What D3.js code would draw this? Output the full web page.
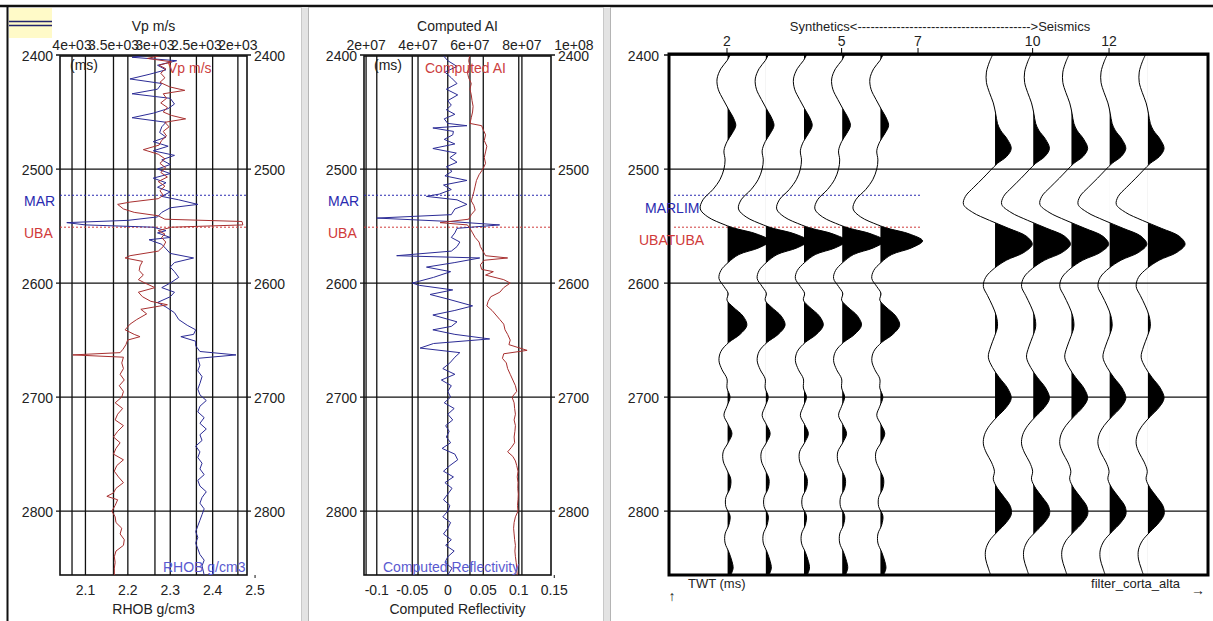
<!DOCTYPE html>
<html>
<head>
<meta charset="utf-8">
<script src="https://cdn.jsdelivr.net/npm/d3@7"></script>
<style>
  body { margin: 0; background: #fff; }
  svg { display: block; font-family: "Liberation Sans", Arial, sans-serif; }
</style>
</head>
<body>
<svg id="fig" width="1213" height="621"></svg>
<script>
// ---------------- data ----------------
// two-way time ticks (ms)
const twtTicks = [2400, 2500, 2600, 2700, 2800];

// formation tops picked on the logs
const horizonNames = ["MAR", "UBA"];
const horizonLongNames = ["MARLIM", "UBATUBA"];
const horizonTimes = [2523, 2551];

// P-velocity log, [twt ms, Vp m/s]
const vpLog = [
  [2400,2900],[2403,3090],[2406,2800],[2409,2950],[2412,2870],[2416,2930],[2420,2880],[2424,2940],
  [2428,2820],[2431,2640],[2434,2900],[2438,2860],[2442,2930],[2446,2850],[2450,2900],[2453,2800],
  [2456,2630],[2459,2880],[2463,2830],[2467,2900],[2471,2860],[2475,2920],[2479,2950],[2483,3140],
  [2487,2960],[2491,2880],[2495,2940],[2499,2870],[2503,2930],[2507,2850],[2511,2960],[2515,2880],
  [2519,2940],[2523,2900],[2526,2960],[2529,3300],[2531,3450],[2535,3380],[2538,3250],[2541,2960],
  [2544,2880],[2546,1950],[2549,1940],[2551,2800],[2554,2960],[2557,2880],[2560,2920],[2564,2870],
  [2568,2900],[2572,2960],[2576,3300],[2578,3360],[2581,3150],[2585,3180],[2589,3190],[2593,3140],
  [2597,3200],[2600,3120],[2604,3000],[2608,3200],[2612,3150],[2616,3050],[2619,2850],[2623,3170],
  [2627,3100],[2632,3220],[2636,3300],[2641,3360],[2645,3250],[2647,3180],[2650,3330],[2654,3350],
  [2658,3385],[2661,3420],[2663,3990],[2665,3380],[2670,3400],[2675,3380],[2680,3420],[2685,3370],
  [2690,3430],[2695,3380],[2700,3400],[2705,3480],[2710,3390],[2715,3450],[2720,3480],[2725,3380],
  [2730,3450],[2735,3500],[2740,3420],[2745,3470],[2750,3500],[2755,3380],[2760,3460],[2765,3490],
  [2770,3440],[2775,3380],[2780,3470],[2784,3500],[2787,3580],[2790,3450],[2795,3480],[2800,3520],
  [2805,3480],[2810,3470],[2815,3400],[2820,3420],[2825,3370],[2830,3380],[2835,3470],[2840,3490],
  [2845,3480],[2850,3490],[2856,3490]
];

// bulk density log, [twt ms, RHOB g/cm3]
const rhobLog = [
  [2400,2.25],[2402,2.21],[2405,2.315],[2409,2.27],[2413,2.29],[2417,2.25],[2421,2.205],[2425,2.28],
  [2430,2.27],[2434,2.21],[2438,2.30],[2443,2.31],[2447,2.295],[2451,2.26],[2455,2.21],[2459,2.29],
  [2463,2.28],[2468,2.275],[2472,2.29],[2476,2.26],[2480,2.295],[2484,2.26],[2488,2.31],[2492,2.28],
  [2496,2.30],[2500,2.27],[2504,2.30],[2508,2.26],[2512,2.29],[2516,2.27],[2520,2.30],[2524,2.28],
  [2527,2.32],[2531,2.365],[2534,2.30],[2538,2.28],[2542,2.27],[2545,2.20],[2547,2.056],[2549,2.10],
  [2551,2.26],[2554,2.29],[2556,2.27],[2560,2.30],[2562,2.25],[2566,2.28],[2570,2.29],[2574,2.30],
  [2578,2.355],[2582,2.31],[2586,2.30],[2590,2.31],[2595,2.32],[2600,2.30],[2604,2.28],[2608,2.31],
  [2612,2.30],[2617,2.27],[2621,2.29],[2626,2.31],[2632,2.32],[2637,2.34],[2641,2.36],[2645,2.355],
  [2647,2.325],[2651,2.36],[2655,2.36],[2660,2.37],[2663,2.455],[2666,2.365],[2672,2.37],[2677,2.365],
  [2682,2.375],[2688,2.37],[2693,2.365],[2698,2.37],[2703,2.385],[2708,2.37],[2713,2.365],[2718,2.38],
  [2723,2.37],[2728,2.385],[2733,2.37],[2738,2.375],[2743,2.36],[2748,2.37],[2753,2.365],[2758,2.375],
  [2763,2.37],[2768,2.38],[2773,2.365],[2778,2.37],[2783,2.385],[2788,2.375],[2793,2.37],[2798,2.38],
  [2803,2.375],[2808,2.37],[2813,2.365],[2818,2.36],[2823,2.365],[2828,2.36],[2833,2.365],[2838,2.37],
  [2843,2.38],[2848,2.375],[2856,2.38]
];

// acoustic impedance computed from the logs, [twt ms, AI]
const aiLog = [
  [2400,6.0e7],[2405,5.95e7],[2410,6.0e7],[2415,5.9e7],[2420,5.95e7],[2425,6.05e7],[2430,6.0e7],
  [2435,6.05e7],[2440,6.08e7],[2445,6.12e7],[2450,6.1e7],[2455,6.05e7],[2460,6.0e7],[2462,6.45e7],
  [2465,6.5e7],[2470,6.6e7],[2475,6.55e7],[2480,6.65e7],[2485,6.6e7],[2490,6.55e7],[2495,6.6e7],
  [2500,6.5e7],[2505,6.35e7],[2510,6.25e7],[2515,6.2e7],[2520,6.15e7],[2524,6.1e7],[2528,6.05e7],
  [2532,6.15e7],[2536,6.2e7],[2540,6.05e7],[2544,5.95e7],[2547,4.85e7],[2549,5.9e7],[2552,6.0e7],
  [2556,6.1e7],[2560,6.2e7],[2564,6.35e7],[2568,6.4e7],[2572,6.5e7],[2576,6.6e7],[2578,7.45e7],
  [2580,6.55e7],[2584,6.4e7],[2588,6.45e7],[2590,6.9e7],[2593,6.6e7],[2597,7.3e7],[2600,7.55e7],
  [2604,7.3e7],[2608,7.15e7],[2612,6.8e7],[2616,6.7e7],[2620,6.65e7],[2624,6.85e7],[2628,7.0e7],
  [2632,7.15e7],[2636,7.3e7],[2641,7.35e7],[2645,7.45e7],[2650,7.55e7],[2654,7.5e7],[2659,8.2e7],
  [2662,7.3e7],[2666,7.25e7],[2670,7.4e7],[2675,7.45e7],[2680,7.55e7],[2685,7.65e7],[2690,7.75e7],
  [2695,7.8e7],[2700,7.62e7],[2705,7.7e7],[2710,7.72e7],[2715,7.75e7],[2720,7.7e7],[2725,7.75e7],
  [2730,7.73e7],[2735,7.7e7],[2740,7.72e7],[2744,7.6e7],[2748,7.45e7],[2752,7.65e7],[2756,7.75e7],
  [2760,7.8e7],[2765,7.85e7],[2770,7.82e7],[2775,7.85e7],[2780,7.84e7],[2785,7.86e7],[2790,7.85e7],
  [2795,7.83e7],[2800,7.85e7],[2805,7.75e7],[2810,7.7e7],[2815,7.68e7],[2820,7.7e7],[2825,7.72e7],
  [2830,7.75e7],[2835,7.73e7],[2840,7.75e7],[2845,7.78e7],[2850,7.8e7],[2856,7.82e7]
];

// reflection coefficients, [twt ms, R]
const reflLog = [
  [2400,-0.007],[2405,0.0],[2410,0.013],[2415,-0.004],[2420,0.005],[2425,0.013],[2430,-0.002],
  [2435,0.014],[2440,0.0],[2444,0.005],[2448,-0.002],[2452,0.01],[2456,-0.005],[2460,0.0],
  [2462,0.027],[2464,-0.021],[2467,0.008],[2470,0.007],[2474,-0.005],[2478,0.01],[2482,-0.021],
  [2486,0.012],[2490,0.003],[2494,0.013],[2498,-0.002],[2502,0.006],[2506,-0.004],[2510,0.027],
  [2514,-0.006],[2518,0.005],[2522,-0.012],[2524,-0.03],[2527,0.013],[2531,0.027],[2535,0.01],
  [2540,0.005],[2543,-0.1],[2546,0.003],[2549,0.073],[2552,0.013],[2556,0.01],[2560,0.005],
  [2564,0.017],[2568,0.013],[2572,0.005],[2576,-0.072],[2578,0.045],[2582,0.01],[2586,-0.03],
  [2590,0.004],[2595,-0.02],[2600,-0.05],[2602,-0.04],[2606,0.007],[2610,-0.025],[2614,0.0],
  [2620,0.035],[2624,0.01],[2628,-0.021],[2634,0.013],[2638,0.005],[2641,-0.021],[2645,0.01],
  [2649,0.059],[2653,-0.02],[2657,-0.039],[2661,0.017],[2665,0.01],[2670,0.003],[2675,-0.007],
  [2680,0.01],[2685,-0.009],[2690,0.005],[2695,0.0],[2700,0.004],[2705,-0.005],[2710,0.009],
  [2715,0.0],[2720,0.007],[2725,-0.003],[2730,0.002],[2735,-0.002],[2740,0.004],[2745,-0.008],
  [2750,0.01],[2755,0.014],[2760,0.003],[2765,-0.006],[2770,0.008],[2775,-0.004],[2780,0.006],
  [2785,0.0],[2790,-0.006],[2795,0.003],[2800,0.0],[2805,-0.007],[2810,0.004],[2815,0.0],
  [2820,-0.006],[2825,0.005],[2830,-0.003],[2835,0.009],[2840,0.0],[2845,-0.004],[2850,0.006],
  [2856,0.0]
];

// synthetic seismogram trace, [twt ms, amplitude in trace spacings]
const synthTrace = [
  [2400,0.08],[2405,0.0],[2412,-0.16],[2421,-0.26],[2430,-0.23],[2439,-0.10],[2447,0.03],[2456,0.18],
  [2462,0.23],[2469,0.13],[2476,0.0],[2484,-0.08],[2492,-0.05],[2500,-0.08],[2509,-0.18],[2518,-0.37],
  [2527,-0.63],[2535,-0.70],[2542,-0.50],[2549,-0.05],[2552,0.21],[2557,0.78],[2563,1.12],[2569,0.84],
  [2575,0.31],[2582,0.03],[2589,-0.16],[2596,-0.21],[2603,-0.08],[2609,0.03],[2615,0.0],[2621,0.16],
  [2629,0.42],[2637,0.52],[2645,0.34],[2652,0.05],[2660,-0.16],[2668,-0.21],[2676,-0.13],[2684,0.0],
  [2692,0.0],[2700,0.08],[2708,0.0],[2716,-0.08],[2724,0.03],[2732,0.13],[2740,0.03],[2748,-0.10],
  [2756,-0.10],[2764,0.0],[2772,0.10],[2780,0.08],[2788,-0.03],[2796,-0.03],[2804,0.08],[2812,0.05],
  [2820,-0.05],[2828,-0.05],[2836,0.05],[2844,0.13],[2850,0.16],[2856,0.10]
];

// seismic trace at the well, [twt ms, amplitude in trace spacings]
const seisTrace = [
  [2400,-0.05],[2406,-0.13],[2415,-0.21],[2424,-0.21],[2433,-0.13],[2442,-0.03],[2451,0.03],
  [2460,0.08],[2466,0.16],[2474,0.34],[2482,0.44],[2489,0.32],[2495,0.08],[2501,-0.10],[2508,-0.30],
  [2516,-0.54],[2524,-0.76],[2531,-0.81],[2538,-0.57],[2545,-0.13],[2552,0.37],[2559,0.84],[2566,0.99],
  [2573,0.78],[2580,0.31],[2587,0.0],[2595,-0.23],[2603,-0.29],[2611,-0.18],[2620,-0.05],[2629,0.05],
  [2638,0.08],[2647,0.0],[2656,-0.10],[2665,-0.16],[2674,-0.05],[2683,0.13],[2692,0.34],[2701,0.44],
  [2709,0.31],[2717,0.08],[2725,-0.13],[2733,-0.26],[2741,-0.29],[2749,-0.21],[2757,-0.08],[2765,0.0],
  [2772,-0.03],[2780,0.08],[2788,0.26],[2796,0.42],[2803,0.44],[2810,0.31],[2818,0.08],[2826,-0.13],
  [2834,-0.23],[2842,-0.23],[2850,-0.16],[2856,-0.10]
];

// trace numbers of the display
const synthTraceNumbers = [2, 3, 4, 5, 6];
const seisTraceNumbers = [9, 10, 11, 12, 13];
const traceTickValues = [2, 5, 7, 10, 12];

// axis ticks of the log tracks
const vpTicks = [4000, 3500, 3000, 2500, 2000];
const vpTickLabels = ["4e+03", "3.5e+03", "3e+03", "2.5e+03", "2e+03"];
const rhobTicks = [2.1, 2.2, 2.3, 2.4, 2.5];
const aiTicks = [2e7, 4e7, 6e7, 8e7, 1e8];
const aiTickLabels = ["2e+07", "4e+07", "6e+07", "8e+07", "1e+08"];
const reflTicks = [-0.1, -0.05, 0, 0.05, 0.1, 0.15];

// ---------------- drawing ----------------
const svg = d3.select("#fig");
const defs = svg.append("defs");
const RED = "#a83030", BLUE = "#2c2c96";
const RED_TXT = "#cc4040", BLUE_TXT = "#5a5ad0";
const HZ_COLORS = ["#2a2ab0", "#d03a3a"];

// shared time axis
const y = d3.scaleLinear().domain([2400, 2856]).range([55, 575]);

// frame of the figure
svg.append("rect").attr("x", 0).attr("y", 0).attr("width", 1213).attr("height", 621).attr("fill", "#fff");
svg.append("line").attr("x1", 0).attr("x2", 1213).attr("y1", 6).attr("y2", 6)
  .attr("stroke", "#111").attr("stroke-width", 2.5);
svg.append("line").attr("x1", 7.5).attr("x2", 7.5).attr("y1", 6).attr("y2", 621)
  .attr("stroke", "#111").attr("stroke-width", 2);

// separators between tracks
[301, 603].forEach(sx => {
  svg.append("rect").attr("x", sx).attr("y", 7).attr("width", 8).attr("height", 614).attr("fill", "#e3e3e3");
  svg.append("line").attr("x1", sx + 0.5).attr("x2", sx + 0.5).attr("y1", 7).attr("y2", 621).attr("stroke", "#c8c8c8");
  svg.append("line").attr("x1", sx + 7.5).attr("x2", sx + 7.5).attr("y1", 7).attr("y2", 621).attr("stroke", "#b4b4b4");
});

// legend swatch
svg.append("rect").attr("x", 9).attr("y", 8).attr("width", 43).attr("height", 30).attr("fill", "#fffac8");
[21.5, 25.5].forEach(ly => svg.append("line").attr("x1", 9).attr("x2", 52).attr("y1", ly).attr("y2", ly)
  .attr("stroke", "#23236e").attr("stroke-width", 1.4));

function txt(g, x, yy, s, opt = {}) {
  return g.append("text").attr("x", x).attr("y", yy).text(s)
    .attr("font-size", opt.size || 14)
    .attr("fill", opt.fill || "#222")
    .attr("text-anchor", opt.anchor || "start");
}

// a log track with a top and a bottom scale
function logTrack(cfg) {
  const g = svg.append("g");
  const { left, right, top, bottom } = cfg;
  const id = "clip-" + cfg.name;
  defs.append("clipPath").attr("id", id).append("rect")
    .attr("x", left).attr("y", top).attr("width", right - left).attr("height", bottom - top);

  // vertical grid from both scales
  const vx = [];
  cfg.topTicks.forEach(v => vx.push(cfg.topScale(v)));
  cfg.botTicks.forEach(v => vx.push(cfg.botScale(v)));
  vx.filter(x => x > left + 0.5 && x < right - 0.5).forEach(x => {
    g.append("line").attr("x1", x).attr("x2", x).attr("y1", top).attr("y2", bottom)
      .attr("stroke", "#111").attr("stroke-width", 1.3);
  });
  // horizontal grid + ticks
  twtTicks.forEach(t => {
    g.append("line").attr("x1", left - 4).attr("x2", right + 4).attr("y1", y(t)).attr("y2", y(t))
      .attr("stroke", "#111").attr("stroke-width", 1.3);
    txt(g, left - 7, y(t) + 6, t, { anchor: "end" });
    txt(g, right + 7, y(t) + 6, t);
  });
  // frame
  g.append("rect").attr("x", left).attr("y", top).attr("width", right - left).attr("height", bottom - top)
    .attr("fill", "none").attr("stroke", "#111").attr("stroke-width", 1.6);

  // horizon markers
  horizonTimes.forEach((t, i) => {
    g.append("line").attr("x1", left).attr("x2", right).attr("y1", y(t)).attr("y2", y(t))
      .attr("stroke", HZ_COLORS[i]).attr("stroke-width", 1).attr("stroke-dasharray", "2,2");
    txt(g, left - 36, y(t) + 11, horizonNames[i], { fill: HZ_COLORS[i] });
  });

  // curves
  const cg = g.append("g").attr("clip-path", `url(#${id})`);
  const lineTop = d3.line().x(d => cfg.topScale(d[1])).y(d => y(d[0]));
  const lineBot = d3.line().x(d => cfg.botScale(d[1])).y(d => y(d[0]));
  cg.append("path").attr("d", lineBot(cfg.botData)).attr("fill", "none").attr("stroke", BLUE).attr("stroke-width", 1);
  cg.append("path").attr("d", lineTop(cfg.topData)).attr("fill", "none").attr("stroke", RED).attr("stroke-width", 1);

  // scales text
  const cx = (left + right) / 2;
  txt(g, cx, 31, cfg.topTitle, { anchor: "middle" });
  cfg.topTicks.forEach((v, i) => txt(g, cfg.topScale(v), 50, cfg.topLabels[i], { anchor: "middle" }));
  cfg.botTicks.forEach((v, i) => {
    txt(g, cfg.botScale(v), 595, cfg.botLabels[i], { anchor: "middle" });
  });
  g.append("line").attr("x1", cfg.botScale(cfg.botTicks[cfg.botTicks.length - 1]))
    .attr("x2", cfg.botScale(cfg.botTicks[cfg.botTicks.length - 1]))
    .attr("y1", bottom).attr("y2", bottom + 3).attr("stroke", "#111");
  txt(g, cx, 614, cfg.botTitle, { anchor: "middle" });
  txt(g, left + 10, 70, "(ms)");
  txt(g, cfg.topInX, 73, cfg.topTitle, { fill: RED_TXT });
  txt(g, cfg.botInX, 572, cfg.botTitle, { fill: BLUE_TXT });
}

// track 1: Vp and RHOB
logTrack({
  name: "vp", left: 60, right: 247, top: 56, bottom: 575,
  topScale: d3.scaleLinear().domain([4145, 1890]).range([60, 247]),
  botScale: d3.scaleLinear().domain([2.04, 2.481]).range([60, 247]),
  topTicks: vpTicks, topLabels: vpTickLabels,
  botTicks: rhobTicks, botLabels: rhobTicks.map(d3.format(".1f")),
  topData: vpLog, botData: rhobLog,
  topTitle: "Vp m/s", botTitle: "RHOB g/cm3",
  topInX: 168, botInX: 163
});

// track 2: acoustic impedance and reflectivity
logTrack({
  name: "ai", left: 364, right: 551, top: 56, bottom: 575,
  topScale: d3.scaleLinear().domain([1.92e7, 9.12e7]).range([364, 551]),
  botScale: d3.scaleLinear().domain([-0.118, 0.1454]).range([364, 551]),
  topTicks: aiTicks, topLabels: aiTickLabels,
  botTicks: reflTicks, botLabels: reflTicks.map(d => d === 0 ? "0" : String(d)),
  topData: aiLog, botData: reflLog,
  topTitle: "Computed AI", botTitle: "Computed Reflectivity",
  topInX: 425, botInX: 383
});

// track 3: synthetics and seismic traces
(function () {
  const g = svg.append("g");
  const left = 669, right = 1208, top = 54, bottom = 575;
  const tx = d3.scaleLinear().domain([0.482, 14.59]).range([left, right]);

  // horizontal grid + time labels
  twtTicks.forEach(t => {
    g.append("line").attr("x1", left - 5).attr("x2", right).attr("y1", y(t)).attr("y2", y(t))
      .attr("stroke", "#111").attr("stroke-width", 1.3);
    txt(g, left - 10, y(t) + 6, t, { anchor: "end" });
  });

  // horizon markers over the synthetics
  horizonTimes.forEach((t, i) => {
    g.append("line").attr("x1", 674).attr("x2", 921).attr("y1", y(t)).attr("y2", y(t))
      .attr("stroke", HZ_COLORS[i]).attr("stroke-width", 1).attr("stroke-dasharray", "2,2");
  });

  const curve = d3.curveCatmullRom.alpha(0.5);
  function drawTrace(k, data) {
    const base = tx(k);
    const id = "clip-tr-" + k;
    // positive lobes only: clip just right of the zero line
    defs.append("clipPath").attr("id", id).append("rect")
      .attr("x", base + 0.6).attr("y", top).attr("width", right - base).attr("height", bottom - top);
    const area = d3.area().curve(curve).y(d => y(d[0])).x0(base).x1(d => tx(k + d[1]));
    const line = d3.line().curve(curve).y(d => y(d[0])).x(d => tx(k + d[1]));
    g.append("path").attr("d", area(data)).attr("fill", "#000").attr("clip-path", `url(#${id})`);
    g.append("path").attr("d", line(data)).attr("fill", "none").attr("stroke", "#000").attr("stroke-width", 1);
  }
  synthTraceNumbers.forEach(k => drawTrace(k, synthTrace));
  seisTraceNumbers.forEach(k => drawTrace(k, seisTrace));

  // thick frame
  g.append("rect").attr("x", left).attr("y", top).attr("width", right - left).attr("height", bottom - top)
    .attr("fill", "none").attr("stroke", "#000").attr("stroke-width", 3);

  // horizon names
  horizonTimes.forEach((t, i) => {
    txt(g, i === 0 ? 645 : 639, y(t) + 18, horizonLongNames[i], { fill: HZ_COLORS[i] });
  });

  // top trace axis
  traceTickValues.forEach(k => {
    g.append("line").attr("x1", tx(k)).attr("x2", tx(k)).attr("y1", top - 6).attr("y2", top)
      .attr("stroke", "#000");
    txt(g, tx(k), top - 8, k, { anchor: "middle" });
  });
  txt(g, 940, 31, "Synthetics<" + "-".repeat(40) + ">Seismics", { anchor: "middle", size: 13 });

  txt(g, 688, 588, "TWT (ms)", { size: 13 });
  txt(g, 1180, 588, "filter_corta_alta", { size: 13, anchor: "end" });
  txt(g, 672, 601, "\u2191", { size: 14, anchor: "middle" });
  txt(g, 1198, 595, "\u2192", { size: 14, anchor: "middle" });
})();
</script>
</body>
</html>
